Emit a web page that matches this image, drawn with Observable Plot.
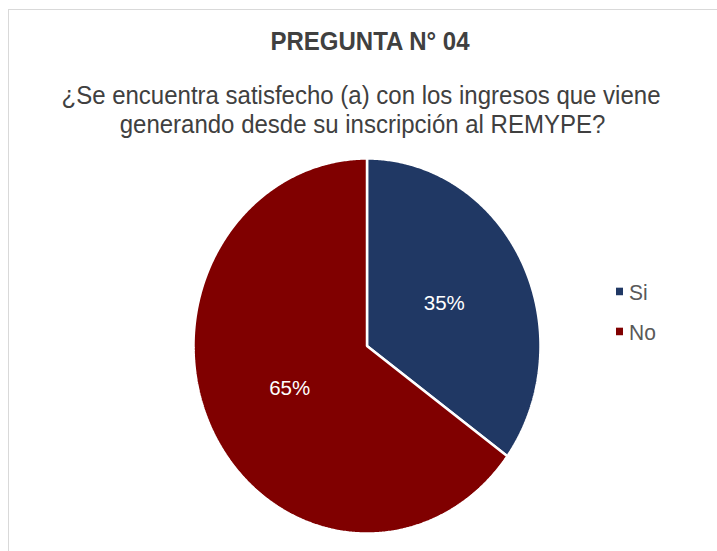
<!DOCTYPE html>
<html>
<head>
<meta charset="utf-8">
<script src="https://cdn.jsdelivr.net/npm/d3@7"></script>
<script src="https://cdn.jsdelivr.net/npm/@observablehq/plot@0.6"></script>
<style>
  html, body { margin: 0; padding: 0; background: #fff; }
  body { width: 717px; height: 551px; position: relative; overflow: hidden;
         font-family: "Liberation Sans", Arial, sans-serif; }
  #frame { position: absolute; left: 8px; top: 9px; width: 730px; height: 560px;
           border: 1px solid #d9d9d9; box-sizing: border-box; }
  #chart { position: absolute; left: 0; top: 0; }
  .t { position: absolute; text-align: center; color: #404040;
       white-space: nowrap; transform: scaleY(1.1); transform-origin: 50% 100%; }
  #title { left: 0; width: 740px; top: 29px; font-size: 24px; font-weight: bold; line-height: 26px; }
  #sub1 { left: 0; width: 722px; top: 83px; font-size: 24px; line-height: 26px; }
  #sub2 { left: 0; width: 725px; top: 112px; font-size: 24px; line-height: 26px; }
  #legend { position: absolute; left: 616px; top: 280px; color: #595959; font-size: 21px; }
  .li { position: absolute; left: 0; white-space: nowrap; transform: scaleY(1.08); }
  .sw { display: inline-block; width: 7px; height: 7px; margin-right: 6px; vertical-align: middle;
        position: relative; top: -2px; }
</style>
</head>
<body>
<div id="frame"></div>
<div id="chart"></div>
<div class="t" id="title"></div>
<div class="t" id="sub1"></div>
<div class="t" id="sub2"></div>
<div id="legend"></div>
<script>
// ---- data ----
const titleText = "PREGUNTA N° 04";
const subtitleLines = [
  "¿Se encuentra satisfecho (a) con los ingresos que viene",
  "generando desde su inscripción al REMYPE?"
];
const categories = ["Si", "No"];
const values = [35, 65];
const colors = ["#203864", "#800000"];

document.getElementById("title").textContent = titleText;
document.getElementById("sub1").textContent = subtitleLines[0];
document.getElementById("sub2").textContent = subtitleLines[1];

// pie geometry from data
const pie = d3.pie().sort(null).value(d => d.value);
const arcs = pie(categories.map((c, i) => ({category: c, value: values[i]})));
const total = d3.sum(values);

const polys = [];
const labels = [];
for (const a of arcs) {
  const cat = a.data.category;
  polys.push({category: cat, x: 0, y: 0});
  const n = Math.max(2, Math.ceil((a.endAngle - a.startAngle) / (Math.PI / 360)));
  for (let k = 0; k <= n; k++) {
    const t = a.startAngle + (a.endAngle - a.startAngle) * k / n;
    polys.push({category: cat, x: Math.sin(t), y: Math.cos(t)});
  }
  const m = (a.startAngle + a.endAngle) / 2;
  labels.push({category: cat, x: 0.5 * Math.sin(m), y: 0.5 * Math.cos(m),
               text: Math.round(a.data.value / total * 100) + "%"});
}

const chart = Plot.plot({
  width: 717,
  height: 551,
  margin: 0,
  x: {domain: [-1, 1], range: [193, 540], axis: null},
  y: {domain: [-1, 1], range: [533, 158], axis: null},
  color: {domain: categories, range: colors},
  style: {background: "transparent", fontFamily: "'Liberation Sans', Arial, sans-serif"},
  marks: [
    Plot.line(polys, {x: "x", y: "y", z: "category", fill: "category", stroke: "#ffffff",
                      strokeWidth: 2.5, strokeLinejoin: "miter", curve: "linear-closed"}),
    Plot.text(labels, {x: "x", y: "y", text: "text", fill: "#ffffff", fontSize: 20.5})
  ]
});
document.getElementById("chart").appendChild(chart);

// legend
const legend = document.getElementById("legend");
categories.forEach((c, i) => {
  const row = document.createElement("div");
  row.className = "li";
  row.style.top = (i * 40) + "px";
  const sw = document.createElement("span");
  sw.className = "sw";
  sw.style.background = colors[i];
  row.appendChild(sw);
  row.appendChild(document.createTextNode(c));
  legend.appendChild(row);
});
</script>
</body>
</html>
